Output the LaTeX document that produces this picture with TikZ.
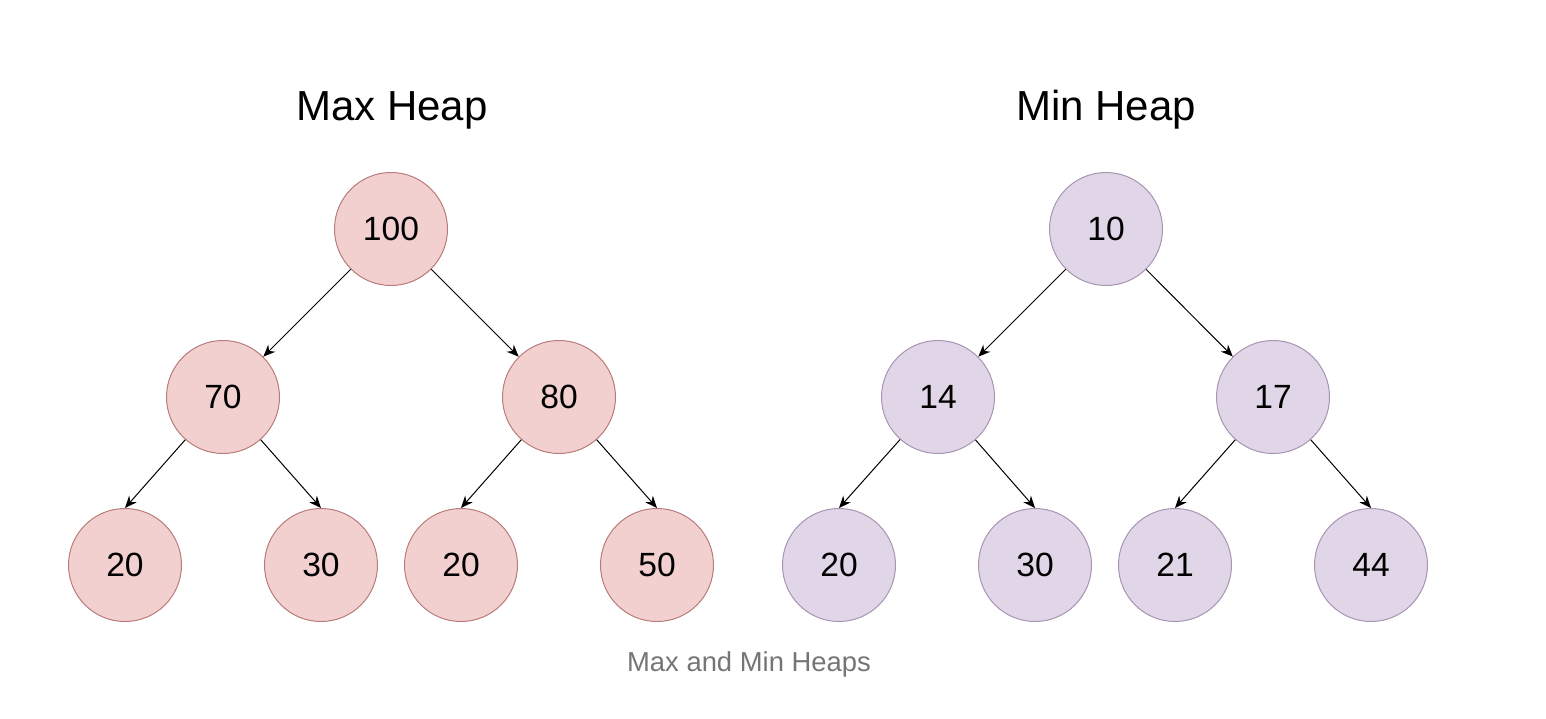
\documentclass[tikz,border=0pt]{standalone}
\usepackage{fontspec}
\setmainfont{Liberation Sans}
\usetikzlibrary{arrows.meta}
\definecolor{maxfill}{HTML}{F2D0CF}
\definecolor{maxdraw}{HTML}{B87D7B}
\definecolor{minfill}{HTML}{E1D6E7}
\definecolor{mindraw}{HTML}{A895B2}
\definecolor{captiongray}{HTML}{757575}
\tikzset{
  heapnode/.style={circle, minimum size=56.5pt, inner sep=0pt, line width=0.5pt, font=\fontsize{16.8}{16.8}\selectfont},
  maxnode/.style={heapnode, fill=maxfill, draw=maxdraw},
  minnode/.style={heapnode, fill=minfill, draw=mindraw},
  edge/.style={-{Stealth[length=6pt,width=5pt]}, line width=0.5pt, black},
  title/.style={font=\fontsize{21}{21}\selectfont},
}
\begin{document}
\begin{tikzpicture}[x=0.5pt,y=-0.5pt]
\useasboundingbox (0,0) rectangle (1546,718);
% titles
\node[title] (tmax) at (392,110) {Max Heap};
\node[title] (tmin) at (1106,110) {Min Heap};
% max heap
\node[maxnode] (m100) at (391,229) {100};
\node[maxnode] (m70) at (223,397) {70};
\node[maxnode] (m80) at (559,397) {80};
\node[maxnode] (m20a) at (125,565) {20};
\node[maxnode] (m30) at (321,565) {30};
\node[maxnode] (m20b) at (461,565) {20};
\node[maxnode] (m50) at (657,565) {50};
\draw[edge] (m100) -- (m70);
\draw[edge] (m100) -- (m80);
\draw[edge] (m70) -- (m20a.north);
\draw[edge] (m70) -- (m30.north);
\draw[edge] (m80) -- (m20b.north);
\draw[edge] (m80) -- (m50.north);
% min heap
\node[minnode] (n10) at (1106,229) {10};
\node[minnode] (n14) at (938,397) {14};
\node[minnode] (n17) at (1273,397) {17};
\node[minnode] (n20) at (839,565) {20};
\node[minnode] (n30) at (1035,565) {30};
\node[minnode] (n21) at (1175,565) {21};
\node[minnode] (n44) at (1371,565) {44};
\draw[edge] (n10) -- (n14);
\draw[edge] (n10) -- (n17);
\draw[edge] (n14) -- (n20.north);
\draw[edge] (n14) -- (n30.north);
\draw[edge] (n17) -- (n21.north);
\draw[edge] (n17) -- (n44.north);
% caption
\node[font=\fontsize{13.7}{13.7}\selectfont, text=captiongray] (cap) at (749,664) {Max and Min Heaps};
\end{tikzpicture}
\end{document}
